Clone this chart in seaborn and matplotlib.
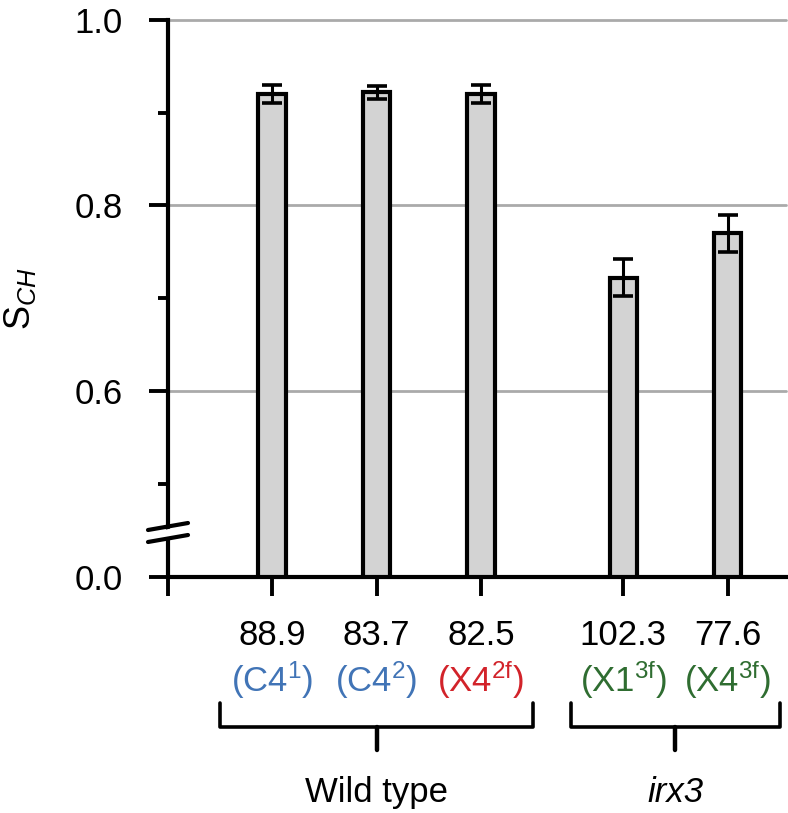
import numpy as np
import pandas as pd
import matplotlib
matplotlib.use("Agg")
import matplotlib.pyplot as plt
import matplotlib.transforms as mtransforms
import seaborn as sns

# ---- data ----
groups = ["Wild type", "Wild type", "Wild type", "irx3", "irx3"]
group_names = ["Wild type", "irx3"]
values = [0.920, 0.922, 0.920, 0.722, 0.770]
errors = [0.010, 0.007, 0.010, 0.020, 0.020]
angles = ["88.9", "83.7", "82.5", "102.3", "77.6"]
samples = ["C4", "C4", "X4", "X1", "X4"]
supers = ["1", "2", "2f", "3f", "3f"]
label_colors = ["#4174b6", "#4174b6", "#d2232a", "#2f6d31", "#2f6d31"]
ytick_vals = [0.4, 0.6, 0.8, 1.0]
ytick_labels = ["0.0", "0.6", "0.8", "1.0"]
yminor_vals = [0.5, 0.7, 0.9]

sns.set_style("white")
plt.rcParams["font.family"] = ["Liberation Sans", "DejaVu Sans"]
plt.rcParams["mathtext.fontset"] = "custom"
plt.rcParams["mathtext.rm"] = "Liberation Sans"
plt.rcParams["mathtext.it"] = "Liberation Sans:italic"
for k in ["text.color", "axes.labelcolor", "xtick.color", "ytick.color", "axes.edgecolor"]:
    plt.rcParams[k] = "black"

W, H = 788, 813
DPI = 100
fig = plt.figure(figsize=(W / DPI, H / DPI), dpi=DPI)
ax_left, ax_right, ax_top, ax_bot = 167.5, 786, 20, 576.5
ax = fig.add_axes([ax_left / W, 1 - ax_bot / H, (ax_right - ax_left) / W, (ax_bot - ax_top) / H])

# layout: bar positions with extra gap between groups
gap = 0.36
pos = []
for i, g in enumerate(groups):
    pos.append(i + 1 + gap * group_names.index(g))

df = pd.DataFrame({"pos": pos, "value": values, "group": groups})

sns.barplot(data=df, x="pos", y="value", native_scale=True, width=0.26,
            color="#d3d3d3", edgecolor="black", linewidth=3.0,
            errorbar=None, ax=ax, zorder=2)
for p in ax.patches:
    p.set_facecolor("#d3d3d3")
ax.errorbar(df["pos"], df["value"], yerr=errors, fmt="none", ecolor="black",
            elinewidth=2.2, capsize=7.5, capthick=2.6, zorder=3)

ax.set_xlim(0, (ax_right - ax_left) / 104.5)
ax.set_ylim(0.4, 1.0)
ax.set_xlabel("")

ax.set_yticks(ytick_vals, labels=ytick_labels)
ax.set_yticks(yminor_vals, minor=True)
ax.set_xticks([0] + pos, labels=[""] * (len(pos) + 1))

ax.tick_params(axis="y", which="major", length=13.5, width=2.8, pad=18.5,
               labelsize=25, direction="out", left=True)
ax.tick_params(axis="y", which="minor", length=7, width=2.8, direction="out", left=True)
ax.tick_params(axis="x", which="major", length=13.5, width=2.8, direction="out", bottom=True)

for s in ["top", "right"]:
    ax.spines[s].set_visible(False)
for s in ["left", "bottom"]:
    ax.spines[s].set_linewidth(3.0)
    ax.spines[s].set_color("black")
    ax.spines[s].set_zorder(4)

ax.yaxis.grid(True, color="#aaaaaa", linewidth=2.0, zorder=0)
ax.xaxis.grid(False)
ax.set_axisbelow(True)
gl = ax.get_ygridlines()
gl[0].set_visible(False)
for l in gl:
    l.set_clip_on(False)

ax.set_ylabel(r"S$_{\mathit{CH}}$", fontsize=26)
ax.yaxis.label.set_va("center")
ax.yaxis.set_label_coords((20 - ax_left) / (ax_right - ax_left), 0.5)

# axis break marks (pixel coordinates in figure)
def px(x, y):
    return x / W, 1 - y / H
fig.add_artist(plt.Polygon([px(155, 532), px(182, 526), px(182, 535), px(155, 541)],
                           closed=True, facecolor="white", edgecolor="none", zorder=10))
for y0 in (530, 542):
    (x1, y1), (x2, y2) = px(148, y0), px(188, y0 - 7)
    fig.add_artist(plt.Line2D([x1, x2], [y1, y2], color="black", lw=3.0, zorder=11))

# x labels
trans = mtransforms.blended_transform_factory(ax.transData, fig.transFigure)
for p, a, s, sup, c in zip(pos, angles, samples, supers, label_colors):
    fig.text(p, 1 - 645 / H, a, transform=trans, ha="center", va="baseline",
             fontsize=25, color="black")
    fig.text(p, 1 - 692 / H, "(" + s + r"$^{\mathrm{" + sup + r"}}$)", transform=trans,
             ha="center", va="baseline", fontsize=25, color=c)

# braces and group labels
for gname in group_names:
    gp = [p for p, g in zip(pos, groups) if g == gname]
    x0, x1 = min(gp) - 0.5, max(gp) + 0.5
    xc = (x0 + x1) / 2
    yt, yh, ys = 1 - 703 / H, 1 - 727 / H, 1 - 750 / H
    fig.add_artist(plt.Line2D([x0, x0, x1, x1], [yt, yh, yh, yt], transform=trans,
                              color="black", lw=2.6, solid_joinstyle="round"))
    fig.add_artist(plt.Line2D([xc, xc], [yh, ys], transform=trans,
                              color="black", lw=3.2))
    style = "italic" if gname == "irx3" else "normal"
    fig.text(xc, 1 - 802 / H, gname, transform=trans, ha="center", va="baseline",
             fontsize=25, style=style)

fig.savefig("out.png", dpi=DPI)
